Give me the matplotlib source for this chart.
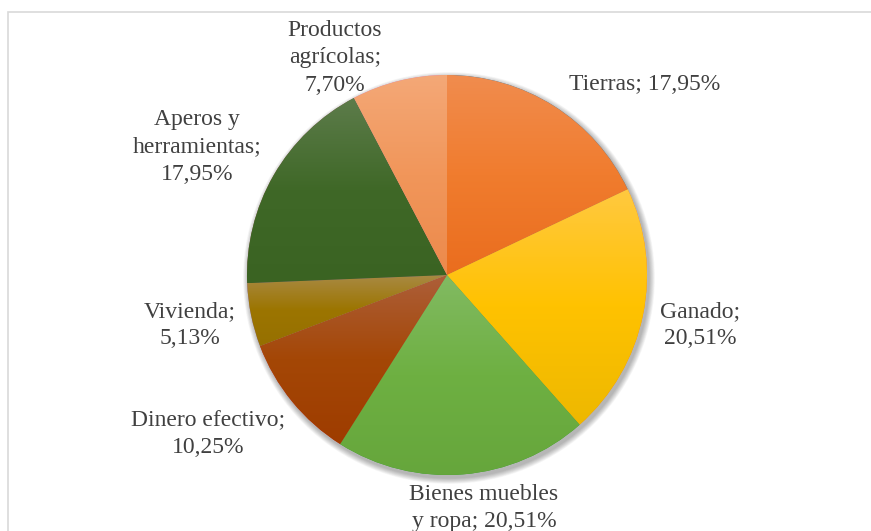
import numpy as np
import matplotlib.pyplot as plt
from matplotlib.patches import Rectangle, Circle
from matplotlib.colors import to_rgb

plt.rcParams["font.family"] = ["Liberation Serif", "DejaVu Serif"]

labels = ["Tierras", "Ganado", "Bienes muebles\ny ropa", "Dinero efectivo",
          "Vivienda", "Aperos y\nherramientas", "Productos\nagrícolas"]
values = [17.95, 20.51, 20.51, 10.25, 5.13, 17.95, 7.70]
# top / middle / bottom colour of each slice (vertical gradient per slice)
tops = ["#F18C4E", "#FFC940", "#82BA62", "#AD5F3A", "#A98A45", "#5D7C4B", "#F4A877"]
mids = ["#F07C2E", "#FFC200", "#6EB042", "#A44706", "#9C7500", "#3F6827", "#F1965A"]
bottoms = ["#EA6D1E", "#EDB800", "#66A63C", "#9E3C00", "#967000", "#3A6322", "#EC8A4C"]

# label text + position (pixels, top-left origin)
label_text = ["Tierras; 17,95%", "Ganado;\n20,51%", "Bienes muebles\ny ropa; 20,51%",
              "Dinero efectivo;\n10,25%", "Vivienda;\n5,13%",
              "Aperos y\nherramientas;\n17,95%", "Productos\nagrícolas;\n7,70%"]
label_pos = [(645, 84), (700, 325), (484, 508), (208, 434), (190, 325), (197, 147), (335, 58)]

W, H = 871, 531
cx, cy, r = 447, H - 275, 200

fig = plt.figure(figsize=(W / 100, H / 100), dpi=100)
ax = fig.add_axes([0, 0, 1, 1])

# chart frame
ax.add_patch(Rectangle((7.5, -20), W, H - 12 + 20, fill=False, edgecolor="#D9D9D9", linewidth=1.2))

# soft shadow under the pie
for k in range(10):
    ax.add_patch(Circle((cx + 2, cy - 3), r + 0.5 + k * 0.6, facecolor="black", edgecolor="none",
                        alpha=0.03, zorder=1))

wedges, _ = ax.pie(values, startangle=90, counterclock=False, center=(cx, cy), radius=r,
                   frame=True, wedgeprops=dict(linewidth=0, edgecolor="none"))
ax.set_xlim(0, W)
ax.set_ylim(0, H)
ax.set_aspect("equal")
ax.axis("off")

g = np.linspace(0, 1, 256)
for w, t, m, b in zip(wedges, tops, mids, bottoms):
    w.set_zorder(2)
    ext = w.get_path().get_extents(w.get_patch_transform())
    t, m, b = (np.array(to_rgb(c)) for c in (t, m, b))
    img = np.stack([np.interp(g, [0, 0.5, 1], [t[i], m[i], b[i]]) for i in range(3)], axis=-1)
    img = img[:, None, :]
    im = ax.imshow(img, extent=(ext.x0, ext.x1, ext.y0, ext.y1), origin="upper",
                   aspect="auto", zorder=3, interpolation="bilinear")
    im.set_clip_path(w)

ax.set_xlim(0, W)
ax.set_ylim(0, H)

for txt, (x, y) in zip(label_text, label_pos):
    ax.text(x, H - y, txt, ha="center", va="center", fontsize=17, color="#404040",
            linespacing=1.38, zorder=5)

fig.savefig("out.png", dpi=100)
